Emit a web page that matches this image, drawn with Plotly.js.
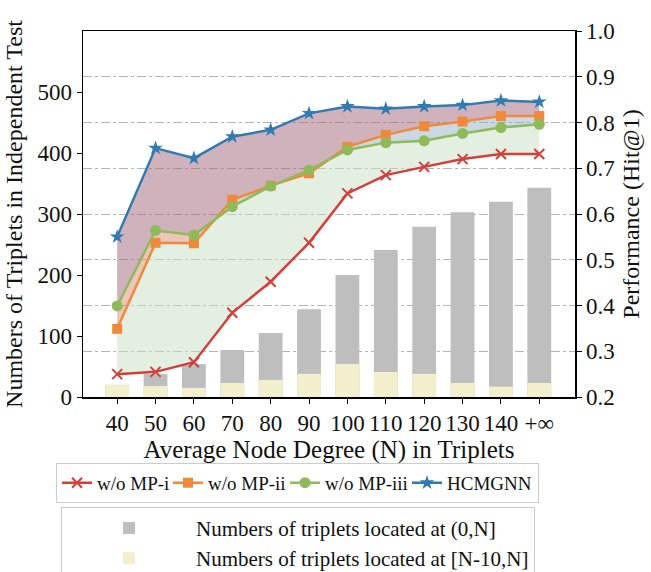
<!DOCTYPE html>
<html>
<head>
<meta charset="utf-8">
<script src="https://cdn.plot.ly/plotly-3.0.1.min.js"></script>
<style>html,body{margin:0;padding:0;background:#fff;}#chart{width:651px;height:572px;}</style>
</head>
<body>
<div id="chart"></div>
<script>
const categories = ['40','50','60','70','80','90','100','110','120','130','140','+∞'];
const countAll = [20,38,54,77,105,144,200,241,279,303,320,343];
const countRecent = [20,18,15,23,28,38,54,41,38,23,17,23];
const mpI = [0.250,0.255,0.276,0.384,0.452,0.537,0.645,0.685,0.703,0.720,0.731,0.731];
const mpII = [0.349,0.537,0.536,0.631,0.662,0.689,0.747,0.773,0.792,0.802,0.814,0.814];
const mpIII = [0.399,0.564,0.554,0.616,0.661,0.696,0.740,0.756,0.760,0.776,0.789,0.796];
const hcmgnn = [0.550,0.744,0.722,0.769,0.784,0.820,0.835,0.830,0.835,0.838,0.848,0.845];

const idx = categories.map((_, i) => i);

// merged vertices including crossings of MP-ii and MP-iii
const mx = [], mI = [], mII = [], mIII = [], mH = [];
for (let k = 0; k < idx.length; k++) {
  mx.push(k); mI.push(mpI[k]); mII.push(mpII[k]); mIII.push(mpIII[k]); mH.push(hcmgnn[k]);
  if (k < idx.length - 1) {
    const d0 = mpIII[k] - mpII[k], d1 = mpIII[k+1] - mpII[k+1];
    if (d0 * d1 < 0) {
      const t = d0 / (d0 - d1);
      const lerp = (a) => a[k] + t * (a[k+1] - a[k]);
      mx.push(k + t); mI.push(lerp(mpI)); mII.push(lerp(mpII)); mIII.push(lerp(mpIII)); mH.push(lerp(hcmgnn));
    }
  }
}
const mMax = mII.map((v, i) => Math.max(v, mIII[i]));
const mMin = mII.map((v, i) => Math.min(v, mIII[i]));

function band(upper, lower, color) {
  return {
    type: 'scatter', mode: 'lines', yaxis: 'y2',
    x: mx.concat(mx.slice().reverse()),
    y: upper.concat(lower.slice().reverse()),
    fill: 'toself', fillcolor: color, line: {width: 0},
    hoverinfo: 'skip', showlegend: false
  };
}

const traces = [
  {type: 'bar', x: idx, y: countAll, width: 0.62, marker: {color: '#bebebe'},
   name: 'Numbers of triplets located at (0,N]', legend: 'legend2'},
  {type: 'bar', x: idx, y: countRecent, width: 0.62, marker: {color: '#f3eecb'},
   name: 'Numbers of triplets located at [N-10,N]', legend: 'legend2'},
  band(mH, mMax, 'rgba(161,101,121,0.5)'),
  band(mMax, mII, 'rgba(217,141,113,0.5)'),
  band(mII, mMin, 'rgba(147,177,197,0.5)'),
  band(mMin, mI, 'rgba(200,224,196,0.5)'),
  {type: 'scatter', mode: 'lines+markers', x: idx, y: mpI, yaxis: 'y2', name: 'w/o MP-i',
   legendwidth: 66,
   line: {color: '#d33f3b', width: 2.5},
   marker: {symbol: 'x-thin', size: 10, color: '#d33f3b', line: {color: '#d33f3b', width: 2}}},
  {type: 'scatter', mode: 'lines+markers', x: idx, y: mpII, yaxis: 'y2', name: 'w/o MP-ii',
   legendwidth: 72,
   line: {color: '#ef8a3c', width: 2.5},
   marker: {symbol: 'square', size: 10, color: '#ef8a3c'}},
  {type: 'scatter', mode: 'lines+markers', x: idx, y: mpIII, yaxis: 'y2', name: 'w/o MP-iii',
   legendwidth: 77,
   line: {color: '#8fba5a', width: 2.5},
   marker: {symbol: 'circle', size: 11, color: '#8fba5a'}},
  {type: 'scatter', mode: 'lines+markers', x: idx, y: hcmgnn, yaxis: 'y2', name: 'HCMGNN',
   legendwidth: 86,
   line: {color: '#2f7bb2', width: 2.5},
   marker: {symbol: 'star', size: 11, color: '#2f7bb2'}}
];

const font = {family: '"Liberation Serif", "Times New Roman", serif', color: '#111', size: 23};

const layout = {
  width: 651, height: 572,
  margin: {l: 83, r: 76, t: 31, b: 175, autoexpand: false},
  paper_bgcolor: '#fff', plot_bgcolor: '#fff',
  font: font,
  barmode: 'overlay',
  showlegend: true,
  xaxis: {
    range: [-0.89, 11.93], tickvals: idx, ticktext: categories,
    showline: true, linecolor: '#000', linewidth: 1.5, mirror: true,
    ticks: 'outside', ticklen: 5, tickcolor: '#000', showgrid: false, zeroline: false,
    tickfont: {size: 23},
    title: {text: 'Average Node Degree (N) in Triplets', font: {size: 25}, standoff: 3}
  },
  yaxis: {
    range: [0, 600], tickvals: [0,100,200,300,400,500],
    showline: true, linecolor: '#000', linewidth: 1.5,
    ticks: 'outside', ticklen: 5, tickcolor: '#000', showgrid: false, zeroline: false,
    tickfont: {size: 23},
    title: {text: 'Numbers of Triplets in Independent Test', font: {size: 24}, standoff: 8}
  },
  yaxis2: {
    overlaying: 'y', side: 'right', range: [0.2, 1.0], dtick: 0.1, tick0: 0.2, tickformat: '.1f',
    showline: true, linecolor: '#000', linewidth: 1.5,
    ticks: 'outside', ticklen: 5, tickcolor: '#000',
    showgrid: true, gridcolor: '#b4b4b4', gridwidth: 1, griddash: 'dashdot', zeroline: false,
    tickfont: {size: 23},
    title: {text: 'Performance (Hit@1)', font: {size: 24}, standoff: 8}
  },
  legend: {
    orientation: 'h', x: 0.436, xanchor: 'center', y: -0.18, yanchor: 'top',
    bordercolor: '#cccccc', borderwidth: 1, bgcolor: '#fff',
    font: {size: 19}, itemwidth: 30, tracegroupgap: 0
  },
  legend2: {
    orientation: 'v', x: 0.437, xanchor: 'center', y: -0.30, yanchor: 'top',
    bordercolor: '#cccccc', borderwidth: 1, bgcolor: '#fff',
    font: {size: 21}, itemwidth: 124
  }
};

Plotly.newPlot('chart', traces, layout, {displayModeBar: false, staticPlot: true});
</script>
</body>
</html>
